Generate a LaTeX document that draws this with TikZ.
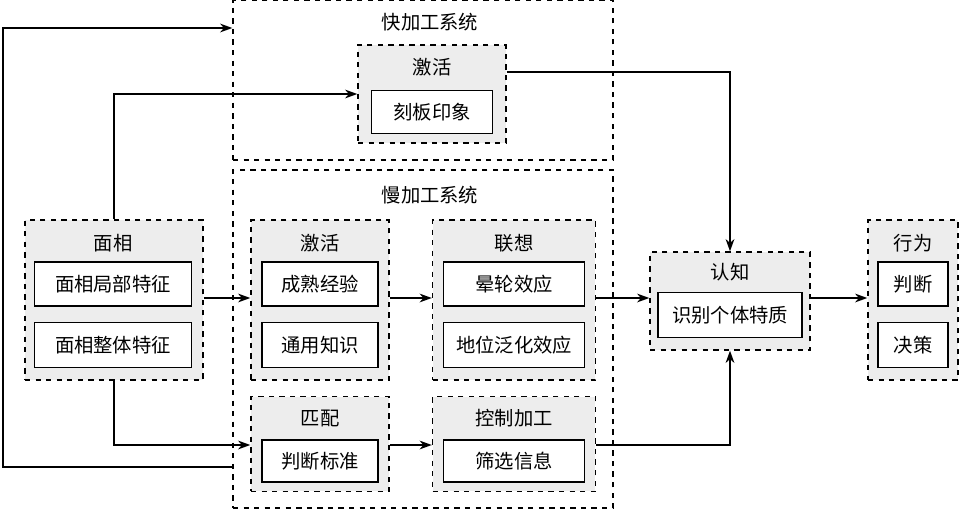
\documentclass[tikz,border=0pt]{standalone}
\usepackage{fontspec}
\newfontfamily\cjk{Noto Sans CJK SC}
\usetikzlibrary{arrows.meta}
\definecolor{panel}{HTML}{EDEDED}
\tikzstyle{system_box}=[rectangle, draw=black, dashed, thick]
\tikzstyle{group_box}=[rectangle, draw=black, dashed, thick, fill=panel]
\tikzstyle{item_box}=[rectangle, draw=black, thick, fill=white,
                      inner sep=0pt, font=\cjk\fontsize{11}{13}\selectfont]
\tikzstyle{title}=[font=\cjk\fontsize{11}{13}\selectfont]
\tikzstyle{link}=[thick, -{Stealth[length=7pt,width=5pt]}]

\begin{document}
\begin{tikzpicture}[x=0.02cm, y=-0.02cm]
    \useasboundingbox (0,0) rectangle (960,510);

    % systems
    \node at (423, 80) (Fast) [system_box, minimum width=7.6cm, minimum height=3.2cm] {};
    \node at (423, 339) (Slow) [system_box, minimum width=7.6cm, minimum height=6.76cm] {};
    \node at (430, 22) () [title] {快加工系统};
    \node at (430, 195) () [title] {慢加工系统};

    % groups
    \node at (432, 94) (FastAct) [group_box, minimum width=2.96cm, minimum height=1.96cm] {};
    \node at (320, 300) (Act) [group_box, minimum width=2.76cm, minimum height=3.2cm] {};
    \node at (514, 300) (Assoc) [group_box, minimum width=3.26cm, minimum height=3.2cm] {};
    \node at (320, 444) (Match) [group_box, minimum width=2.76cm, minimum height=1.9cm] {};
    \node at (514, 444) (Ctrl) [group_box, minimum width=3.26cm, minimum height=1.9cm] {};
    \node at (114, 300) (Face) [group_box, minimum width=3.56cm, minimum height=3.2cm] {};
    \node at (730, 301) (Cog) [group_box, minimum width=3.2cm, minimum height=1.96cm] {};
    \node at (913, 300) (Act2) [group_box, minimum width=1.8cm, minimum height=3.2cm] {};

    % group titles
    \node at (432, 67) () [title] {激活};
    \node at (320, 243) () [title] {激活};
    \node at (514, 243) () [title] {联想};
    \node at (320, 418) () [title] {匹配};
    \node at (514, 418) () [title] {控制加工};
    \node at (113, 243) () [title] {面相};
    \node at (730, 272) () [title] {认知};
    \node at (913, 243) () [title] {行为};

    % items
    \node at (432, 112) (Stereo) [item_box, minimum width=2.42cm, minimum height=0.86cm] {刻板印象};
    \node at (320, 284) (Exp) [item_box, minimum width=2.32cm, minimum height=0.88cm] {成熟经验};
    \node at (320, 345) (Know) [item_box, minimum width=2.32cm, minimum height=0.9cm] {通用知识};
    \node at (514, 284) (Halo) [item_box, minimum width=2.82cm, minimum height=0.88cm] {晕轮效应};
    \node at (514, 345) (Status) [item_box, minimum width=2.82cm, minimum height=0.9cm] {地位泛化效应};
    \node at (320, 461) (Crit) [item_box, minimum width=2.32cm, minimum height=0.84cm] {判断标准};
    \node at (514, 461) (Filter) [item_box, minimum width=2.82cm, minimum height=0.84cm] {筛选信息};
    \node at (113, 284) (Local) [item_box, minimum width=3.14cm, minimum height=0.88cm] {面相局部特征};
    \node at (113, 345) (Whole) [item_box, minimum width=3.14cm, minimum height=0.9cm] {面相整体特征};
    \node at (730, 315) (Trait) [item_box, minimum width=2.88cm, minimum height=0.9cm] {识别个体特质};
    \node at (913, 284) (Judge) [item_box, minimum width=1.4cm, minimum height=0.88cm] {判断};
    \node at (913, 345) (Decide) [item_box, minimum width=1.4cm, minimum height=0.9cm] {决策};

    \coordinate (Loop) at (3, 467);
    \coordinate (TopRow) at (0, 28);
    \coordinate (FastRow) at (0, 72);
    \coordinate (MidRow) at (0, 298);
    \coordinate (LowRow) at (0, 445);

    % connectors
    \draw[link] (Face.north) |- (FastAct.west);
    \draw[link] (Face.south) |- (Match.west |- LowRow);
    \draw[link] (Slow.west |- Loop) -- (Loop) |- (Fast.west |- TopRow);
    \draw[link] (Face.east |- MidRow) -- (Act.west |- MidRow);
    \draw[link] (Act.east |- MidRow) -- (Assoc.west |- MidRow);
    \draw[link] (Assoc.east |- MidRow) -- (Cog.west |- MidRow);
    \draw[link] (Cog.east |- MidRow) -- (Act2.west |- MidRow);
    \draw[link] (Match.east |- LowRow) -- (Ctrl.west |- LowRow);
    \draw[link] (FastAct.east |- FastRow) -| (Cog.north);
    \draw[link] (Ctrl.east |- LowRow) -| (Cog.south);
\end{tikzpicture}
\end{document}
